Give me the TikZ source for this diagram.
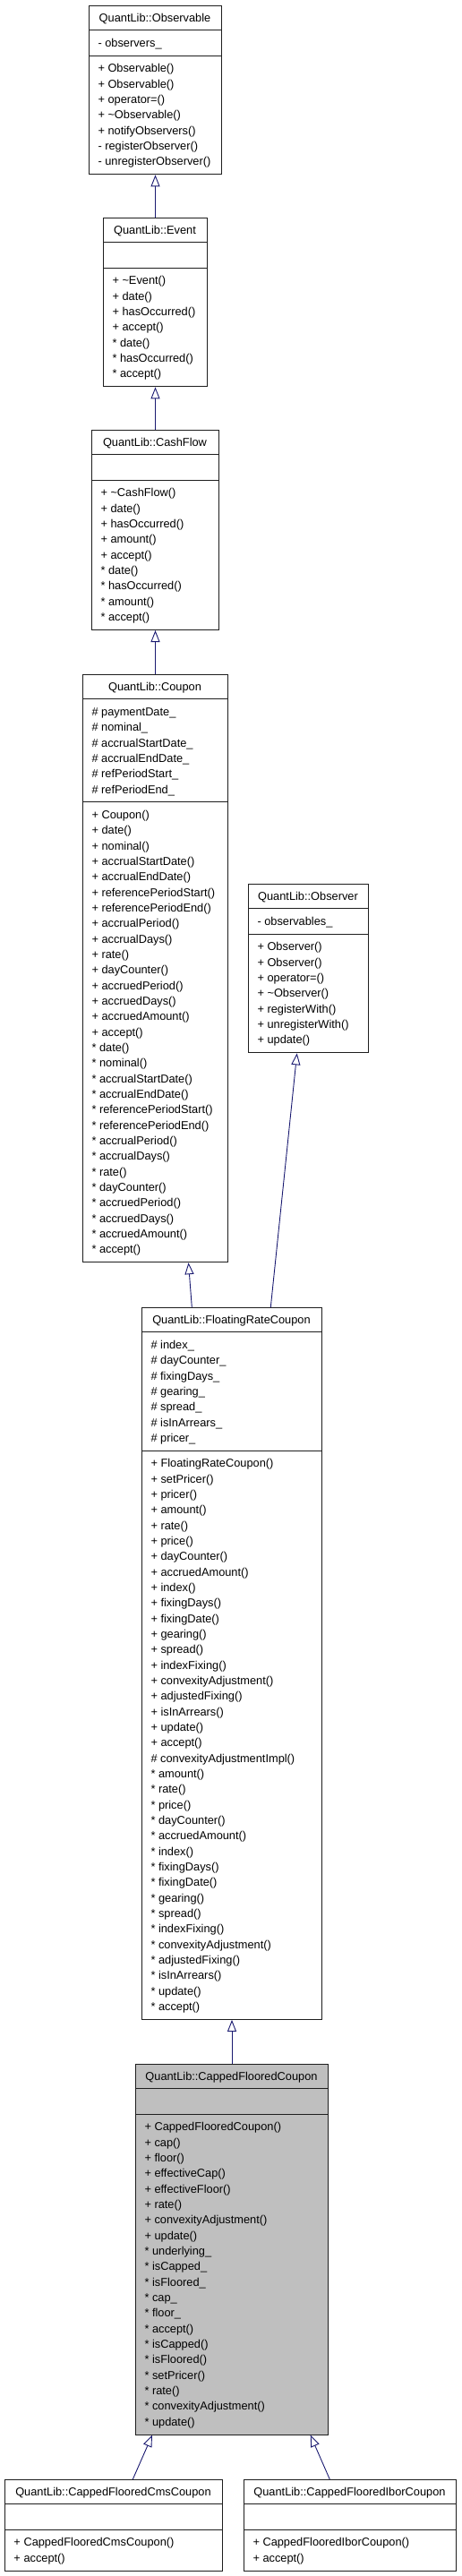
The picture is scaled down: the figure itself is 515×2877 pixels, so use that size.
\documentclass[tikz,border=0pt]{standalone}
\usepackage{fontspec}
\setmainfont{Liberation Sans}
\usetikzlibrary{arrows.meta,calc}
\definecolor{edgeblue}{HTML}{191970}
\definecolor{boxgray}{HTML}{BFBFBF}
\definecolor{boxline}{HTML}{1E1E1E}

\newcommand\rowh{17.33}
\newcommand\headh{27.7}
\newcommand\secpad{11}

\tikzset{
  classbox/.style={draw=boxline, line width=1pt, inner sep=0pt, anchor=north west},
  classline/.style={draw=boxline, line width=1pt},
  titletext/.style={font=\fontsize{12.8}{15}\selectfont, inner sep=0pt, anchor=base},
  rowtext/.style={font=\fontsize{12.8}{15}\selectfont, inner sep=0pt, anchor=base west},
  inherit/.style={draw=edgeblue, line width=0.9pt, -{Triangle[open, length=13pt, width=10pt]}},
}

% #1 name, #2 left, #3 right, #4 top, #5 nattr, #6 nmeth, #7 fill, #8 title
\newcommand\umlclass[8]{%
  \pgfmathsetmacro\hA{max(#5,1)*\rowh+\secpad}%
  \pgfmathsetmacro\hM{max(#6,1)*\rowh+\secpad}%
  \pgfmathsetmacro\hT{\headh+\hA+\hM}%
  \pgfmathsetmacro\wB{#3-#2}%
  \node[classbox, fill=#7, minimum width=\wB pt, minimum height=\hT pt] (#1) at (#2,#4) {};
  \node[titletext] (#1-title) at ({(#2+#3)/2}, {#4+18.2}) {#8};
  \pgfmathsetmacro\sepA{#4+\headh}%
  \pgfmathsetmacro\sepB{#4+\headh+\hA}%
  \draw[classline] (#2,\sepA) -- (#3,\sepA);
  \draw[classline] (#2,\sepB) -- (#3,\sepB);
  \xdef\attrY{\sepA}\xdef\methY{\sepB}%
  \pgfmathsetmacro\tx{#2+10.3}\xdef\textX{\tx}%
}
% #1 prefix, #2 section top, #3 list
\newcommand\umlrows[3]{%
  \foreach \itm [count=\i] in {#3} {
    \node[rowtext] (#1\i) at ({\textX}, {#2+18.9+\rowh*(\i-1)}) {\itm};
  }%
}

\begin{document}
\begin{tikzpicture}[x=1pt, y=-1pt]
\useasboundingbox (0,0) rectangle (515,2877);

% Observable
\umlclass{observable}{99}{247}{6}{1}{7}{white}{QuantLib::Observable}
\umlrows{observable-a}{\attrY}{- observers\_}
\umlrows{observable-m}{\methY}{+ Observable(), + Observable(), + operator=(), + \textasciitilde Observable(), + notifyObservers(), - registerObserver(), - unregisterObserver()}

% Event
\umlclass{event}{115}{231}{243}{0}{7}{white}{QuantLib::Event}
\umlrows{event-m}{\methY}{+ \textasciitilde Event(), + date(), + hasOccurred(), + accept(), * date(), * hasOccurred(), * accept()}

% CashFlow
\umlclass{cashflow}{102}{244}{480}{0}{9}{white}{QuantLib::CashFlow}
\umlrows{cashflow-m}{\methY}{+ \textasciitilde CashFlow(), + date(), + hasOccurred(), + amount(), + accept(), * date(), * hasOccurred(), * amount(), * accept()}

% Coupon
\umlclass{coupon}{92}{254}{753}{6}{29}{white}{QuantLib::Coupon}
\umlrows{coupon-a}{\attrY}{\# paymentDate\_, \# nominal\_, \# accrualStartDate\_, \# accrualEndDate\_, \# refPeriodStart\_, \# refPeriodEnd\_}
\umlrows{coupon-m}{\methY}{+ Coupon(), + date(), + nominal(), + accrualStartDate(), + accrualEndDate(), + referencePeriodStart(), + referencePeriodEnd(), + accrualPeriod(), + accrualDays(), + rate(), + dayCounter(), + accruedPeriod(), + accruedDays(), + accruedAmount(), + accept(), * date(), * nominal(), * accrualStartDate(), * accrualEndDate(), * referencePeriodStart(), * referencePeriodEnd(), * accrualPeriod(), * accrualDays(), * rate(), * dayCounter(), * accruedPeriod(), * accruedDays(), * accruedAmount(), * accept()}

% Observer
\umlclass{observer}{277}{411}{987}{1}{7}{white}{QuantLib::Observer}
\umlrows{observer-a}{\attrY}{- observables\_}
\umlrows{observer-m}{\methY}{+ Observer(), + Observer(), + operator=(), + \textasciitilde Observer(), + registerWith(), + unregisterWith(), + update()}

% FloatingRateCoupon
\umlclass{frc}{158}{359}{1460}{7}{36}{white}{QuantLib::FloatingRateCoupon}
\umlrows{frc-a}{\attrY}{\# index\_, \# dayCounter\_, \# fixingDays\_, \# gearing\_, \# spread\_, \# isInArrears\_, \# pricer\_}
\umlrows{frc-m}{\methY}{+ FloatingRateCoupon(), + setPricer(), + pricer(), + amount(), + rate(), + price(), + dayCounter(), + accruedAmount(), + index(), + fixingDays(), + fixingDate(), + gearing(), + spread(), + indexFixing(), + convexityAdjustment(), + adjustedFixing(), + isInArrears(), + update(), + accept(), \# convexityAdjustmentImpl(), * amount(), * rate(), * price(), * dayCounter(), * accruedAmount(), * index(), * fixingDays(), * fixingDate(), * gearing(), * spread(), * indexFixing(), * convexityAdjustment(), * adjustedFixing(), * isInArrears(), * update(), * accept()}

% CappedFlooredCoupon
\umlclass{cfc}{151}{366}{2305}{0}{20}{boxgray}{QuantLib::CappedFlooredCoupon}
\umlrows{cfc-m}{\methY}{+ CappedFlooredCoupon(), + cap(), + floor(), + effectiveCap(), + effectiveFloor(), + rate(), + convexityAdjustment(), + update(), * underlying\_, * isCapped\_, * isFloored\_, * cap\_, * floor\_, * accept(), * isCapped(), * isFloored(), * setPricer(), * rate(), * convexityAdjustment(), * update()}

% CappedFlooredCmsCoupon
\umlclass{cms}{5}{248}{2769}{0}{2}{white}{QuantLib::CappedFlooredCmsCoupon}
\umlrows{cms-m}{\methY}{+ CappedFlooredCmsCoupon(), + accept()}

% CappedFlooredIborCoupon
\umlclass{ibor}{272}{509}{2769}{0}{2}{white}{QuantLib::CappedFlooredIborCoupon}
\umlrows{ibor-m}{\methY}{+ CappedFlooredIborCoupon(), + accept()}

% inheritance edges
\draw[inherit] (event.north) -- (observable.south);
\draw[inherit] (cashflow.north) -- (event.south);
\draw[inherit] (coupon.north) -- (cashflow.south);
\draw[inherit] ([xshift=56.3pt]frc.north west) -- ([xshift=118.5pt]coupon.south west);
\draw[inherit] ([xshift=144.3pt]frc.north west) -- ([xshift=54.7pt]observer.south west);
\draw[inherit] (cfc.north) -- (frc.south);
\draw[inherit] ([xshift=143.3pt]cms.north west) -- ([xshift=19pt]cfc.south west);
\draw[inherit] ([xshift=96.3pt]ibor.north west) -- ([xshift=195.7pt]cfc.south west);
\end{tikzpicture}
\end{document}
